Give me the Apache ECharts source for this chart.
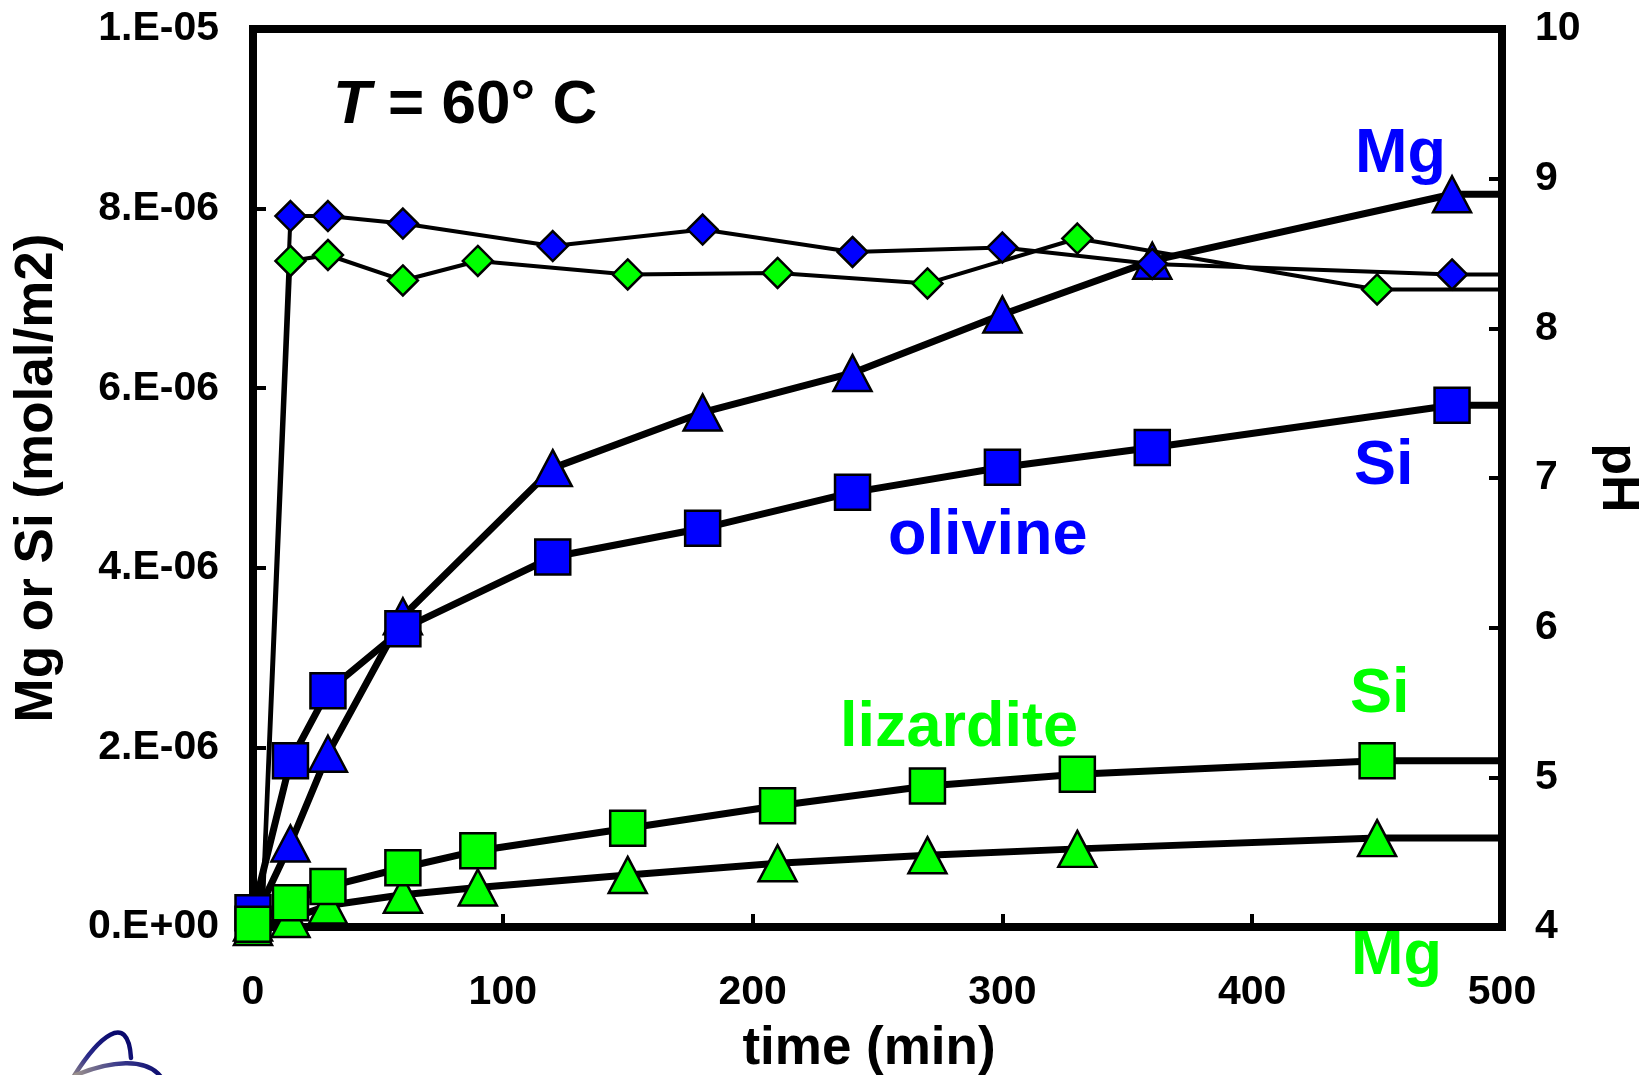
<!DOCTYPE html>
<html>
<head>
<meta charset="utf-8">
<script src="https://cdn.jsdelivr.net/npm/echarts@6/dist/echarts.min.js"></script>
<style>
  html, body { margin: 0; padding: 0; background: #ffffff; }
  #chart { width: 1645px; height: 1075px; }
</style>
</head>
<body>
<div id="chart"></div>
<script>
// Sampling times (min)
const timeOlivine   = [0, 15, 30, 60, 120, 180, 240, 300, 360, 480];
const timeLizardite = [0, 15, 30, 60, 90, 150, 210, 270, 330, 450];

// Released Mg and Si, in units of 1e-6 molal/m2
const olivineMg   = [0.05, 0.93, 1.93, 3.46, 5.11, 5.73, 6.17, 6.82, 7.42, 8.16];
const olivineSi   = [0.16, 1.85, 2.63, 3.32, 4.12, 4.44, 4.84, 5.12, 5.34, 5.81];
const lizarditeMg = [0.00, 0.09, 0.24, 0.36, 0.44, 0.58, 0.71, 0.80, 0.87, 0.99];
const lizarditeSi = [0.03, 0.27, 0.45, 0.66, 0.85, 1.10, 1.35, 1.57, 1.70, 1.85];

// Solution pH (right axis); the first entry is the starting solution
const olivinePH   = [2.6, 8.75, 8.75, 8.70, 8.55, 8.66, 8.51, 8.54, 8.43, 8.36];
const lizarditePH = [2.6, 8.45, 8.49, 8.32, 8.45, 8.36, 8.37, 8.30, 8.60, 8.26];

// Axis tick labels
const leftTickLabels  = ['0.E+00', '2.E-06', '4.E-06', '6.E-06', '8.E-06', '1.E-05'];
const rightTickLabels = ['4', '5', '6', '7', '8', '9', '10'];
const timeTickLabels  = ['0', '100', '200', '300', '400', '500'];

// Lines run on a little past the right frame
const lineEndTime = 508;

const FONT = "'Liberation Sans', Arial, Helvetica, sans-serif";
const BLUE = '#0000ff';
const GREEN = '#00ff00';

const pairs = (t, v) => t.map((x, i) => [x, v[i]]);

const chart = echarts.init(document.getElementById('chart'), null, { renderer: 'canvas' });

// One entry per data set: its line, a short tail past the frame, and its markers
const sets = [
  { t: timeOlivine,   v: olivineMg,   axis: 0, width: 7, symbol: 'triangle', size: [38, 36], color: BLUE,  mz: 3 },
  { t: timeLizardite, v: lizarditeMg, axis: 0, width: 7, symbol: 'triangle', size: [38, 36], color: GREEN, mz: 4 },
  { t: timeOlivine,   v: olivineSi,   axis: 0, width: 7, symbol: 'rect',     size: [35, 35], color: BLUE,  mz: 5 },
  { t: timeLizardite, v: lizarditeSi, axis: 0, width: 7, symbol: 'rect',     size: [35, 35], color: GREEN, mz: 6 },
  { t: timeOlivine,   v: olivinePH,   axis: 1, width: 4, symbol: 'diamond',  size: [30, 30], color: BLUE,  mz: 7, hideFirst: true },
  { t: timeLizardite, v: lizarditePH, axis: 1, width: 4, symbol: 'diamond',  size: [30, 30], color: GREEN, mz: 7, hideFirst: true }
];

const series = [];
sets.forEach(s => {
  const data = pairs(s.t, s.v);
  const last = data[data.length - 1];
  series.push({
    type: 'line', yAxisIndex: s.axis, data: data, showSymbol: false, symbol: 'none',
    clip: true, z: 2, silent: true, animation: false,
    lineStyle: { color: '#000', width: s.width, cap: 'round', join: 'round' }
  });
  series.push({
    type: 'line', yAxisIndex: s.axis, data: [last, [lineEndTime, last[1]]],
    showSymbol: false, symbol: 'none', clip: false, z: 2, silent: true, animation: false,
    lineStyle: { color: '#000', width: s.width, cap: 'butt' }
  });
  series.push({
    type: 'scatter', yAxisIndex: s.axis, clip: false, z: s.mz, silent: true, animation: false,
    symbol: s.symbol, symbolSize: s.size,
    itemStyle: { color: s.color, borderColor: '#000', borderWidth: 2.5, opacity: 1 },
    // the starting-solution pH reading is drawn without a marker
    data: data.map((d, i) => (s.hideFirst && i === 0) ? { value: d, symbol: 'none' } : d)
  });
});

const tickFont = { fontFamily: FONT, fontWeight: 'bold', fontSize: 41, color: '#000' };

const textItem = (x, y, text, color) => ({
  type: 'text', x: x, y: y, silent: true, z: 10,
  style: {
    text: text, fill: color, align: 'left', verticalAlign: 'middle',
    fontFamily: FONT, fontWeight: 'bold', fontSize: 63
  }
});

const option = {
  backgroundColor: '#ffffff',
  animation: false,
  grid: {
    left: 253, right: 143, top: 29, bottom: 148,
    show: true, borderColor: '#000', borderWidth: 8, backgroundColor: 'transparent',
    containLabel: false, outerBoundsMode: 'none'
  },
  xAxis: {
    type: 'value', min: 0, max: 500, interval: 100,
    name: 'time (min)', nameLocation: 'middle', nameGap: 96,
    nameTextStyle: { fontFamily: FONT, fontWeight: 'bold', fontSize: 53, color: '#000', padding: [0, 17, 0, 0] },
    axisLine: { show: false },
    axisTick: { show: true, inside: true, length: 13, lineStyle: { color: '#000', width: 4 } },
    axisLabel: Object.assign({ margin: 45, formatter: v => timeTickLabels[Math.round(v / 100)] }, tickFont),
    splitLine: { show: false }
  },
  yAxis: [
    {
      type: 'value', position: 'left', min: 0, max: 10, interval: 2,
      name: 'Mg or Si (molal/m2)', nameLocation: 'middle', nameRotate: 90, nameGap: 189,
      nameTextStyle: { fontFamily: FONT, fontWeight: 'bold', fontSize: 53, color: '#000' },
      axisLine: { show: false },
      axisTick: { show: true, inside: true, length: 13, lineStyle: { color: '#000', width: 4 } },
      axisLabel: Object.assign({ margin: 34, formatter: v => leftTickLabels[Math.round(v / 2)] }, tickFont),
      splitLine: { show: false }
    },
    {
      type: 'value', position: 'right', min: 4, max: 10, interval: 1,
      name: 'pH', nameLocation: 'middle', nameRotate: -90, nameGap: 89,
      nameTextStyle: { fontFamily: FONT, fontWeight: 'bold', fontSize: 52, color: '#000' },
      axisLine: { show: false },
      axisTick: { show: true, inside: true, length: 13, lineStyle: { color: '#000', width: 4 } },
      axisLabel: Object.assign({ margin: 33, formatter: v => rightTickLabels[Math.round(v - 4)] }, tickFont),
      splitLine: { show: false }
    }
  ],
  series: series,
  graphic: [
    {
      type: 'text', x: 333, y: 106, silent: true, z: 10,
      style: {
        text: '{it|T} = 60° C', fill: '#000', align: 'left', verticalAlign: 'middle',
        fontFamily: FONT, fontWeight: 'bold', fontSize: 62,
        rich: { it: { fontFamily: FONT, fontWeight: 'bold', fontStyle: 'italic', fontSize: 62, fill: '#000' } }
      }
    },
    textItem(1355, 155, 'Mg', BLUE),
    textItem(1354, 467, 'Si', BLUE),
    textItem(888, 537, 'olivine', BLUE),
    textItem(840, 729, 'lizardite', GREEN),
    textItem(1350, 695, 'Si', GREEN),
    textItem(1351, 957, 'Mg', GREEN),
    // corner logo strokes
    {
      type: 'bezierCurve', silent: true, z: 10,
      shape: { x1: 74, y1: 1076, cpx1: 98, cpy1: 1038, cpx2: 128, cpy2: 1010, x2: 131, y2: 1058 },
      style: {
        fill: 'none', lineWidth: 4.5, lineCap: 'round',
        stroke: { type: 'linear', x: 0, y: 1, x2: 0.6, y2: 0, global: false,
          colorStops: [{ offset: 0, color: '#9a8e86' }, { offset: 0.45, color: '#2a2a8a' }, { offset: 1, color: '#0a0a6e' }] }
      }
    },
    {
      type: 'bezierCurve', silent: true, z: 10,
      shape: { x1: 76, y1: 1075, cpx1: 110, cpy1: 1061, cpx2: 146, cpy2: 1057, x2: 161, y2: 1077 },
      style: {
        fill: 'none', lineWidth: 4.5, lineCap: 'round',
        stroke: { type: 'linear', x: 0, y: 0, x2: 1, y2: 0, global: false,
          colorStops: [{ offset: 0, color: '#a0958c' }, { offset: 0.5, color: '#3a3a8c' }, { offset: 1, color: '#0a0a6e' }] }
      }
    }
  ]
};

chart.setOption(option);
</script>
</body>
</html>
